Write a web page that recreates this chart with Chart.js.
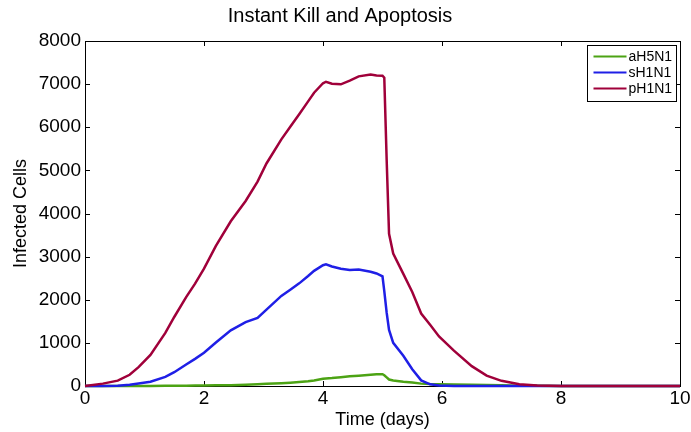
<!DOCTYPE html>
<html>
<head>
<meta charset="utf-8">
<script src="https://cdn.jsdelivr.net/npm/chart.js@4/dist/chart.umd.min.js"></script>
<style>
  html, body { margin: 0; padding: 0; background: #fff; }
  #wrap { width: 691px; height: 432px; }
</style>
</head>
<body>
<div id="wrap"><canvas id="myChart" width="691" height="432"></canvas></div>
<script>
// time points (days) shared by all three series
const days = [0, 0.3, 0.55, 0.75, 0.9, 1.1, 1.35, 1.5, 1.7, 1.85, 2.0, 2.2, 2.45, 2.7, 2.9,
  3.05, 3.3, 3.45, 3.6, 3.75, 3.85, 4.0, 4.05, 4.15, 4.3, 4.45, 4.6, 4.8, 4.9, 5.0,
  5.03, 5.07, 5.11, 5.18, 5.35, 5.5, 5.65, 5.8, 5.95, 6.2, 6.5, 6.75, 7.0, 7.3, 7.6,
  8.0, 9.0, 10];

const aH5N1 = [0, 0, 0, 0, 0, 2, 4, 5, 8, 10, 12, 15, 20, 30, 40,
  50, 65, 78, 92, 110, 130, 167, 175, 185, 205, 225, 240, 262, 270, 274,
  250, 200, 150, 130, 100, 80, 55, 45, 40, 35, 30, 25, 18, 8, 3,
  0, 0, 0];

const sH1N1 = [0, 0, 5, 30, 60, 100, 210, 320, 500, 630, 770, 1010, 1290, 1480, 1580,
  1770, 2090, 2234, 2380, 2550, 2670, 2800, 2820, 2770, 2720, 2690, 2700, 2650, 2610, 2545,
  2200, 1700, 1300, 1000, 700, 390, 130, 40, 10, 0, 0, 0, 0, 0, 0,
  0, 0, 0];

const pH1N1 = [0, 55, 125, 260, 437, 720, 1230, 1600, 2060, 2373, 2720, 3250, 3820, 4290, 4740,
  5160, 5720, 6010, 6300, 6600, 6800, 7020, 7055, 7010, 6995, 7080, 7180, 7220, 7200, 7195,
  7150, 5240, 3530, 3070, 2600, 2180, 1680, 1420, 1150, 820, 460, 240, 120, 40, 10,
  0, 0, 0];

const seriesNames = ['aH5N1', 'sH1N1', 'pH1N1'];
const seriesColors = ['#4ca314', '#1f1fe6', '#a0003a'];

const FONT = '"Liberation Sans", Arial, Helvetica, sans-serif';

function toPoints(values) {
  return values.map((v, i) => ({ x: days[i], y: v }));
}

// axis box + inward ticks on all four sides, drawn under the lines
const frame = {
  id: 'frame',
  beforeDatasetsDraw(chart) {
    const { ctx, chartArea: a, scales } = chart;
    const len = 5;
    ctx.save();
    ctx.strokeStyle = '#000';
    ctx.lineWidth = 1;
    ctx.strokeRect(Math.round(a.left) + 0.5, Math.round(a.top) + 0.5,
      Math.round(a.right - a.left), Math.round(a.bottom - a.top));
    ctx.beginPath();
    scales.x.ticks.forEach((t) => {
      const px = Math.round(scales.x.getPixelForValue(t.value)) + 0.5;
      ctx.moveTo(px, a.bottom); ctx.lineTo(px, a.bottom - len);
      ctx.moveTo(px, a.top); ctx.lineTo(px, a.top + len);
    });
    scales.y.ticks.forEach((t) => {
      const py = Math.round(scales.y.getPixelForValue(t.value)) + 0.5;
      ctx.moveTo(a.left, py); ctx.lineTo(a.left + len, py);
      ctx.moveTo(a.right, py); ctx.lineTo(a.right - len, py);
    });
    ctx.stroke();
    ctx.restore();
  }
};

// boxed legend in the upper right corner of the plot
const boxLegend = {
  id: 'boxLegend',
  afterDraw(chart) {
    const { ctx, chartArea: a } = chart;
    const w = 89, h = 56;
    const x = Math.round(a.right - 4 - w) + 0.5;
    const y = Math.round(a.top + 4) + 0.5;
    ctx.save();
    ctx.fillStyle = '#fff';
    ctx.fillRect(x, y, w, h);
    ctx.strokeStyle = '#000';
    ctx.lineWidth = 1;
    ctx.strokeRect(x, y, w, h);
    ctx.font = '14px ' + FONT;
    ctx.textBaseline = 'middle';
    ctx.textAlign = 'left';
    chart.data.datasets.forEach((ds, i) => {
      const ly = y + 11 + i * 16;
      ctx.strokeStyle = ds.borderColor;
      ctx.lineWidth = 2;
      ctx.beginPath();
      ctx.moveTo(x + 6, ly);
      ctx.lineTo(x + 39, ly);
      ctx.stroke();
      ctx.fillStyle = '#000';
      ctx.fillText(ds.label, x + 41, ly + 1);
    });
    ctx.restore();
  }
};

const datasets = [aH5N1, sH1N1, pH1N1].map((vals, i) => ({
  label: seriesNames[i],
  data: toPoints(vals),
  borderColor: seriesColors[i],
  backgroundColor: seriesColors[i],
  borderWidth: 2.5,
  pointRadius: 0,
  tension: 0,
  clip: false,
  order: 2 - i
}));

new Chart(document.getElementById('myChart'), {
  type: 'line',
  data: { datasets },
  options: {
    responsive: false,
    animation: false,
    layout: { padding: { left: 0, right: 11, top: 0, bottom: 0 } },
    plugins: {
      legend: { display: false },
      tooltip: { enabled: false },
      title: {
        display: true,
        text: 'Instant Kill and Apoptosis',
        color: '#000',
        font: { family: FONT, size: 20, weight: 'normal' },
        padding: { top: 4, bottom: 13 }
      }
    },
    scales: {
      x: {
        type: 'linear',
        min: 0,
        max: 10,
        ticks: {
          stepSize: 2,
          color: '#000',
          padding: 1,
          maxRotation: 0,
          font: { family: FONT, size: 19 },
          callback: (v) => String(v)
        },
        grid: { display: false, drawTicks: false },
        border: { display: false },
        title: {
          display: true,
          text: 'Time (days)',
          color: '#000',
          font: { family: FONT, size: 18 },
          padding: { top: 0, bottom: 1 }
        },
        afterFit(scale) {
          scale.height = 46;
          scale.paddingLeft = 0;
          scale.paddingRight = 0;
        }
      },
      y: {
        min: 0,
        max: 8000,
        ticks: {
          stepSize: 1000,
          color: '#000',
          padding: 4,
          font: { family: FONT, size: 19 },
          callback: (v) => String(v)
        },
        grid: { display: false, drawTicks: false },
        border: { display: false },
        title: {
          display: true,
          text: 'Infected Cells',
          color: '#000',
          font: { family: FONT, size: 18 },
          padding: { top: 10, bottom: 0 }
        },
        afterFit(scale) {
          scale.width = 85;
          scale.paddingTop = 0;
          scale.paddingBottom = 0;
        }
      }
    }
  },
  plugins: [frame, boxLegend]
});
</script>
</body>
</html>
